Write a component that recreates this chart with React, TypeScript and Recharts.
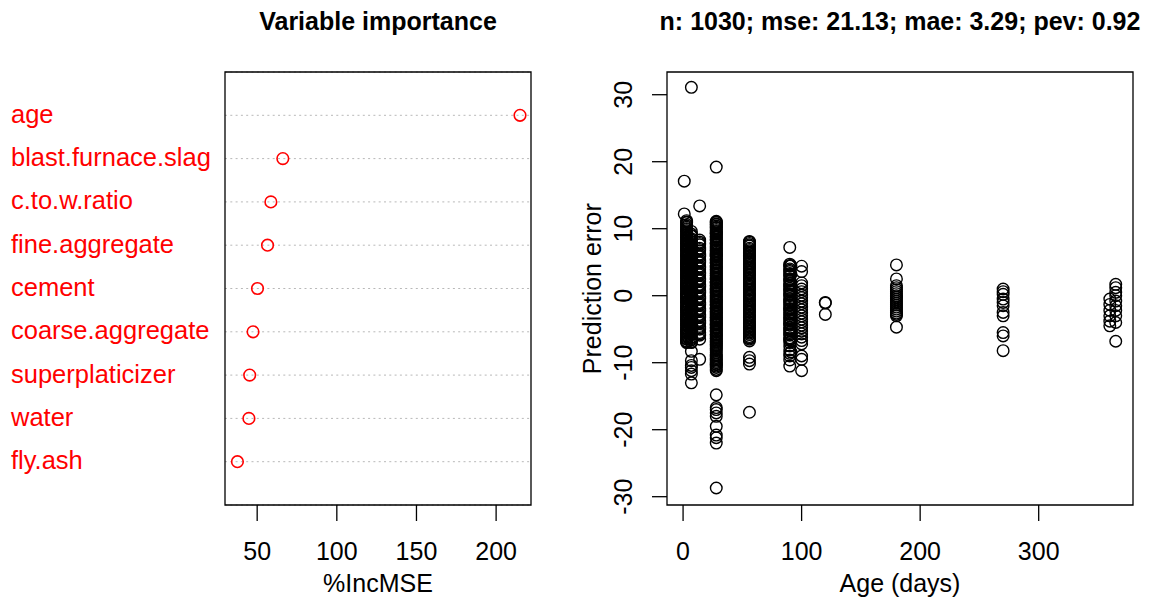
import React from 'react';
import { ScatterChart, Scatter, XAxis, YAxis, CartesianGrid, ReferenceArea } from 'recharts';

// left panel: variable importance (%IncMSE)
const importanceVars = [
  'age', 'blast.furnace.slag', 'c.to.w.ratio', 'fine.aggregate', 'cement',
  'coarse.aggregate', 'superplaticizer', 'water', 'fly.ash',
];
const incMSE = [215.0, 66.1, 58.6, 56.5, 50.2, 47.4, 45.3, 44.8, 37.6];
const incMSETicks = [50, 100, 150, 200];
const incMSEDomain = [29.8, 221.9];

// right panel: prediction error by age
const ageDays = [1, 3, 7, 14, 28, 56, 90, 91, 100, 120, 180, 270, 360, 365];
const errAge1 = [17.1, 12.2];
const errAge3 = [
  11.2, 10.9, 10.6, 10.2, 9.9, 9.7, 9.3, 9.0, 8.8, 8.4, 8.1, 7.9, 7.5, 7.2, 7.0, 6.7,
  6.3, 6.1, 5.8, 5.4, 5.2, 4.9, 4.6, 4.3, 4.1, 3.8, 3.4, 3.2, 2.9, 2.6, 2.3, 2.0, 1.8,
  1.5, 1.1, 0.9, 0.6, 0.3, 0.0, -0.2, -0.5, -0.8, -1.1, -1.3, -1.7, -1.9, -2.2, -2.5,
  -2.8, -3.1, -3.3, -3.6, -4.0, -4.2, -4.5, -4.8, -5.1, -5.3, -5.6, -6.0, -6.2, -6.5,
  -6.8, -7.0, 11.0, 10.4, 10.0, 9.5, 9.1, 8.6, 8.2, 7.7, 7.3, 6.9, 6.5, 6.0, 5.6, 5.0,
  4.7, 4.4, 3.9, 3.6, 3.0, 2.7, 2.1, 1.6, 1.3, 1.0, 0.4, 0.1, -0.4, -0.9, -1.5, -2.0,
  -2.4, -3.0, -3.5, -3.8, -4.4, -4.9, -5.5, -5.8, -6.4, -6.9,
];
const errAge7 = [
  31.1, 9.6, 9.2, 8.9, 8.5, 8.1, 7.8, 7.4, 7.1, 6.8, 6.4, 6.0, 5.7, 5.3, 5.0, 4.7, 4.3,
  4.0, 3.6, 3.3, 2.9, 2.6, 2.2, 1.9, 1.5, 1.2, 0.8, 0.5, 0.1, -0.2, -0.6, -0.9, -1.3,
  -1.6, -2.0, -2.3, -2.7, -3.0, -3.4, -3.7, -4.1, -4.4, -4.8, -5.1, -5.5, -5.8, -6.2,
  -6.6, -7.0, -8.3, -9.7, -10.4, -10.7, -11.2, -11.7, -13.0, 9.0, 8.3, 7.6, 6.9, 6.2,
  5.5, 4.8, 4.1, 3.4, 2.7, 2.0, 1.3, 0.6, -0.1, -0.8, -1.5, -2.2, -2.9, -3.6, -4.3,
  -5.0, -5.7, -6.4, -6.9,
];
const errAge14 = [
  13.4, 8.3, 8.0, 7.6, 7.1, 6.7, 6.2, 5.8, 5.3, 4.9, 4.4, 4.0, 3.5, 3.1, 2.6, 2.2, 1.7,
  1.3, 0.8, 0.4, -0.1, -0.5, -1.0, -1.4, -1.9, -2.3, -2.8, -3.2, -3.7, -4.1, -4.6, -5.0,
  -5.5, -5.9, -6.5, -9.5, 7.8, 6.9, 6.0, 5.1, 4.2, 3.3, 2.4, 1.5, 0.6, -0.3, -1.2, -2.1,
  -3.0, -3.9, -4.8, -5.7,
];
const errAge28 = [
  19.2, 11.1, 10.9, 10.6, 10.4, 10.1, 9.9, 9.6, 9.4, 9.2, 8.9, 8.7, 8.4, 8.2, 7.9, 7.7,
  7.5, 7.2, 7.0, 6.7, 6.5, 6.2, 6.0, 5.8, 5.5, 5.3, 5.0, 4.8, 4.5, 4.3, 4.1, 3.8, 3.6,
  3.3, 3.1, 2.8, 2.6, 2.4, 2.1, 1.9, 1.6, 1.4, 1.1, 0.9, 0.7, 0.4, 0.2, -0.1, -0.3, -0.6,
  -0.8, -1.0, -1.3, -1.5, -1.8, -2.0, -2.3, -2.5, -2.7, -3.0, -3.2, -3.5, -3.7, -4.0,
  -4.2, -4.4, -4.7, -4.9, -5.2, -5.4, -5.7, -5.9, -6.1, -6.4, -6.6, -6.9, -7.1, -7.4,
  -7.6, -8.0, -8.5, -9.0, -9.4, -9.8, -10.0, -10.3, -10.7, -11.2, -14.8, -16.7, -17.0,
  -17.5, -18.0, -19.5, -20.8, -21.2, -22.0, -28.7, 11.0, 10.7, 10.2, 9.7, 9.3, 8.8, 8.3,
  7.8, 7.3, 6.8, 6.3, 5.9, 5.4, 4.9, 4.4, 3.9, 3.4, 3.0, 2.5, 2.0, 1.5, 1.0, 0.5, 0.0,
  -0.4, -0.9, -1.4, -1.9, -2.4, -2.8, -3.3, -3.8, -4.3, -4.8, -5.3, -5.8, -6.3, -6.8,
  -7.3, -7.8, -8.2, -8.8, -9.2, -9.6, -10.2, -10.5, -11.0,
];
const errAge56 = [
  8.1, 7.8, 7.4, 7.1, 6.7, 6.3, 6.0, 5.6, 5.2, 4.9, 4.5, 4.1, 3.8, 3.4, 3.0, 2.7, 2.3,
  1.9, 1.6, 1.2, 0.8, 0.5, 0.1, -0.3, -0.6, -1.0, -1.4, -1.7, -2.1, -2.5, -2.8, -3.2,
  -3.6, -3.9, -4.3, -4.7, -5.0, -5.4, -5.8, -6.1, -6.5, -6.75, -9.2, -9.7, -10.2, -17.4,
  8.0, 7.6, 6.9, 6.5, 5.8, 5.4, 4.7, 4.3, 3.6, 3.2, 2.5, 2.1, 1.4, 1.0, 0.3, -0.1, -0.8,
  -1.2, -1.9, -2.3, -3.0, -3.4, -4.1, -4.5, -5.2, -5.6, -6.3,
];
const errAge90 = [
  7.2, 4.7, 4.4, 4.0, 3.6, 3.3, 2.9, 2.5, 2.2, 1.8, 1.4, 1.1, 0.7, 0.3, 0.0, -0.4, -0.8,
  -1.1, -1.5, -1.9, -2.2, -2.6, -3.0, -3.3, -3.7, -4.1, -4.4, -4.8, -5.2, -5.5, -5.9,
  -6.3, -6.6, -7.0, -7.5, -8.1, -8.6, -9.0, -9.6, -10.5, 4.5, 3.8, 3.1, 2.4, 1.6, 0.9,
  0.2, -0.6, -1.3, -2.0, -2.8, -3.5, -4.2, -5.0, -5.7, -6.5,
];
const errAge91 = [4.5, 3.2, 1.9, 0.6, -0.9, -2.4, -3.8, -5.3, -6.8, -8.4];
const errAge100 = [
  4.4, 3.6, 1.9, 1.5, 1.0, 0.6, 0.1, -0.3, -0.8, -1.2, -1.7, -2.1, -2.6, -3.0, -3.5,
  -3.9, -4.4, -4.8, -5.3, -5.7, -6.2, -6.7, -7.2, -9.0, -9.5, -11.2,
];
const errAge120 = [-1.0, -1.1, -2.8];
const errAge180 = [
  4.6, 2.5, 1.5, 1.2, 0.9, 0.6, 0.3, 0.0, -0.2, -0.5, -0.8, -1.1, -1.4, -1.7, -2.0,
  -2.3, -2.6, -2.8, -3.0, -4.7,
];
const errAge270 = [1.0, 0.6, 0.2, -0.5, -1.0, -1.5, -2.5, -3.0, -5.5, -6.0, -8.2];
const errAge360 = [-0.5, -1.3, -2.2, -3.0, -3.8, -4.5];
const errAge365 = [1.7, 1.2, 0.5, 0.0, -0.8, -1.5, -2.2, -3.0, -4.0, -6.8];
const errorsPerAge = [
  errAge1, errAge3, errAge7, errAge14, errAge28, errAge56, errAge90, errAge91,
  errAge100, errAge120, errAge180, errAge270, errAge360, errAge365,
];
const ageTicks = [0, 100, 200, 300];
const ageDomain = [-13.56, 379.56];
const errorTicks = [-30, -20, -10, 0, 10, 20, 30];
const errorDomain = [-31.24, 33.39];

const importanceData = importanceVars.map((name, i) => ({
  name,
  value: incMSE[i],
  row: importanceVars.length - i,
}));
const rowTicks = importanceData.map(d => d.row);
const errorData = ageDays.flatMap((age, i) => errorsPerAge[i].map(err => ({ age, err })));

const FONT = '"Liberation Sans", Arial, Helvetica, sans-serif';

const RowLabel = (props: any) => {
  const { y, payload } = props;
  const label = importanceVars[importanceVars.length - payload.value];
  return (
    <text x={11} y={y} dy={7.5} fill="#ff0000" fontSize={25.5} textAnchor="start">{label}</text>
  );
};

const BottomTick = (props: any) => {
  const { x, payload } = props;
  return (
    <text x={x} y={560} fill="#000" fontSize={25} textAnchor="middle">{payload.value}</text>
  );
};

const LeftRotTick = (props: any) => {
  const { y, payload } = props;
  const bx = 71.7;
  return (
    <text x={bx} y={y} transform={`rotate(-90 ${bx} ${y})`} fill="#000" fontSize={25} textAnchor="middle">
      {payload.value}
    </text>
  );
};

const App: React.FC = () => {
  return (
    <div style={{ position: 'absolute', left: 0, top: 0, width: 1153, height: 601, background: '#fff', fontFamily: FONT }}>
      <div style={{ position: 'absolute', left: 0, top: 0 }}>
        <ScatterChart width={560} height={601} margin={{ top: 72, right: 29, bottom: 0, left: 0 }}>
          <CartesianGrid horizontal vertical={false} stroke="#b8b8b8" strokeDasharray="2 3.3" />
          <XAxis
            type="number" dataKey="value" domain={incMSEDomain} ticks={incMSETicks} allowDataOverflow
            height={96} axisLine={false} tickSize={16} tickLine={{ stroke: '#000', strokeWidth: 1.3 }}
            tick={<BottomTick />}
          />
          <YAxis
            type="number" dataKey="row" domain={[0, 10]} ticks={rowTicks} allowDataOverflow
            width={225} axisLine={false} tickLine={false} tick={<RowLabel />}
          />
          <ReferenceArea
            x1={incMSEDomain[0]} x2={incMSEDomain[1]} y1={0} y2={10}
            fill="none" stroke="#000" strokeWidth={1.3} ifOverflow="visible"
          />
          <Scatter
            data={importanceData} isAnimationActive={false}
            shape={(p: any) => <circle cx={p.cx} cy={p.cy} r={5.8} fill="none" stroke="#ff0000" strokeWidth={1.6} />}
          />
        </ScatterChart>
      </div>
      <div style={{ position: 'absolute', left: 560, top: 0 }}>
        <ScatterChart width={593} height={601} margin={{ top: 72, right: 20, bottom: 0, left: 0 }}>
          <XAxis
            type="number" dataKey="age" domain={ageDomain} ticks={ageTicks} allowDataOverflow
            height={96} axisLine={false} tickSize={16} tickLine={{ stroke: '#000', strokeWidth: 1.3 }}
            tick={<BottomTick />}
          />
          <YAxis
            type="number" dataKey="err" domain={errorDomain} ticks={errorTicks} allowDataOverflow
            width={107} axisLine={false} tickSize={15} tickLine={{ stroke: '#000', strokeWidth: 1.3 }}
            tick={<LeftRotTick />}
          />
          <ReferenceArea
            x1={ageDomain[0]} x2={ageDomain[1]} y1={errorDomain[0]} y2={errorDomain[1]}
            fill="none" stroke="#000" strokeWidth={1.3} ifOverflow="visible"
          />
          <Scatter
            data={errorData} isAnimationActive={false}
            shape={(p: any) => <circle cx={p.cx} cy={p.cy} r={5.8} fill="none" stroke="#000" strokeWidth={1.4} />}
          />
        </ScatterChart>
      </div>
      <svg width={1153} height={601} style={{ position: 'absolute', left: 0, top: 0, pointerEvents: 'none' }}>
        <text x={378} y={29.5} fontSize={25} fontWeight="bold" textAnchor="middle" fill="#000">Variable importance</text>
        <text x={900} y={29.5} fontSize={25} fontWeight="bold" textAnchor="middle" fill="#000">
          n: 1030; mse: 21.13; mae: 3.29; pev: 0.92
        </text>
        <text x={378} y={591.5} fontSize={25} textAnchor="middle" fill="#000">%IncMSE</text>
        <text x={900} y={591.5} fontSize={25} textAnchor="middle" fill="#000">Age (days)</text>
        <text x={601.5} y={288.7} fontSize={25} textAnchor="middle" fill="#000" transform="rotate(-90 601.5 288.7)">
          Prediction error
        </text>
      </svg>
    </div>
  );
};

export default App;
